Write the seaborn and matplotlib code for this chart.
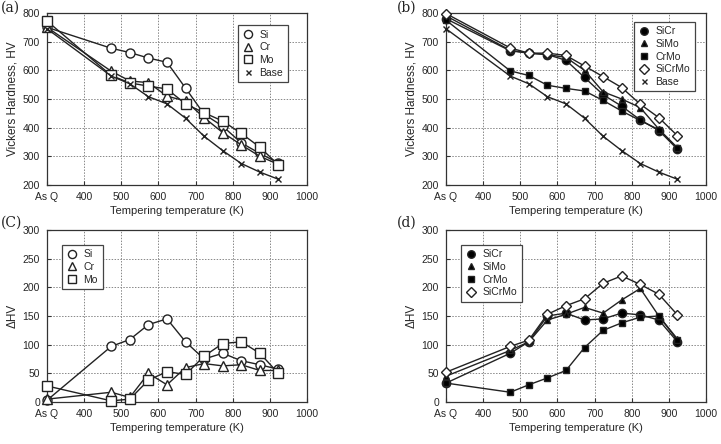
import matplotlib
matplotlib.use("Agg")
import matplotlib.pyplot as plt
import seaborn as sns
import pandas as pd

sns.set_theme(style="white")
plt.rcParams['font.family'] = ['Liberation Sans', 'DejaVu Sans']

temps = [300, 473, 523, 573, 623, 673, 723, 773, 823, 873, 923]
xticks = [300, 400, 500, 600, 700, 800, 900, 1000]
xticklabels = ["As Q", "400", "500", "600", "700", "800", "900", "1000"]

# Panel (a): hardness, single additions
hv_si = [750, 677, 662, 643, 628, 538, 447, 405, 347, 310, 277]
hv_cr = [750, 597, 563, 557, 510, 493, 435, 383, 340, 300, 272]
hv_mo = [772, 582, 556, 545, 535, 483, 452, 423, 380, 332, 270]
hv_base = [745, 580, 553, 508, 483, 433, 370, 320, 275, 245, 220]

# Panel (b): hardness, combined additions
hv_sicr = [780, 668, 660, 655, 635, 575, 515, 475, 427, 390, 325]
hv_simo = [790, 670, 660, 655, 645, 600, 525, 500, 470, 395, 330]
hv_crmo = [775, 598, 582, 548, 537, 528, 495, 458, 425, 393, 328]
hv_sicrmo = [798, 678, 660, 660, 652, 615, 578, 540, 482, 435, 372]

# Panel (c): delta HV, single additions
d_si = [3, 97, 109, 135, 145, 105, 75, 85, 72, 65, 57]
d_cr = [5, 17, 8, 50, 30, 60, 67, 63, 65, 55, 55]
d_mo = [28, 2, 5, 38, 53, 48, 80, 102, 105, 85, 50]

# Panel (d): delta HV, combined additions
d_sicr = [33, 85, 105, 150, 155, 143, 145, 155, 152, 143, 105]
d_simo = [45, 90, 105, 143, 153, 165, 155, 178, 198, 150, 110]
d_crmo = [33, 17, 30, 42, 55, 95, 125, 138, 148, 150, 108]
d_sicrmo = [52, 97, 108, 153, 168, 180, 207, 220, 205, 188, 152]

styles = {
    "Si": dict(marker="o", mfc="white", ms=6.5),
    "Cr": dict(marker="^", mfc="white", ms=6.5),
    "Mo": dict(marker="s", mfc="white", ms=6.5),
    "Base": dict(marker="x", mfc="black", ms=4),
    "SiCr": dict(marker="o", mfc="black", ms=6),
    "SiMo": dict(marker="^", mfc="black", ms=5),
    "CrMo": dict(marker="s", mfc="black", ms=5),
    "SiCrMo": dict(marker="D", mfc="white", ms=5.5),
}

fig = plt.figure(figsize=(7.21, 4.44), dpi=100)
W = 260 / 721
H = 172 / 444
axes = {
    "a": fig.add_axes([47 / 721, 1 - 185 / 444, W, H]),
    "b": fig.add_axes([446 / 721, 1 - 185 / 444, W, H]),
    "c": fig.add_axes([47 / 721, 1 - 402 / 444, W, H]),
    "d": fig.add_axes([446 / 721, 1 - 402 / 444, W, H]),
}

panels = {
    "a": [("Si", hv_si), ("Cr", hv_cr), ("Mo", hv_mo), ("Base", hv_base)],
    "b": [("SiCr", hv_sicr), ("SiMo", hv_simo), ("CrMo", hv_crmo),
          ("SiCrMo", hv_sicrmo), ("Base", hv_base)],
    "c": [("Si", d_si), ("Cr", d_cr), ("Mo", d_mo)],
    "d": [("SiCr", d_sicr), ("SiMo", d_simo), ("CrMo", d_crmo), ("SiCrMo", d_sicrmo)],
}

for key, series in panels.items():
    ax = axes[key]
    for name, vals in series:
        st = styles[name]
        df = pd.DataFrame({"T": temps, "v": vals})
        sns.lineplot(data=df, x="T", y="v", ax=ax, color="#222222", lw=1.0,
                     marker=st["marker"], markersize=st["ms"],
                     markerfacecolor=st["mfc"], markeredgecolor="#222222",
                     markeredgewidth=1.0, label=name, zorder=3, clip_on=False)
    ax.set_xlim(300, 1000)
    ax.set_xticks(xticks)
    ax.set_xticklabels(xticklabels)
    if key in ("a", "b"):
        ax.set_ylim(200, 800)
        ax.set_yticks(range(200, 801, 100))
        ax.set_ylabel("Vickers Hardness, HV", fontsize=8.5, labelpad=3)
    else:
        ax.set_ylim(0, 300)
        ax.set_yticks(range(0, 301, 50))
        ax.set_ylabel("ΔHV", fontsize=8.5, labelpad=3)
    ax.set_xlabel("Tempering temperature (K)", fontsize=8, labelpad=3)
    ax.tick_params(axis="x", labelsize=7.5, direction="in", length=3,
                   width=0.8, pad=5, bottom=True, color="#333333")
    ax.tick_params(axis="y", labelsize=7.5, direction="in", length=3,
                   width=0.8, pad=5, left=True, color="#333333")
    ax.grid(True, linestyle=(0, (1.5, 1.5)), color="#888888", lw=0.7)
    for s in ax.spines.values():
        s.set_color("#333333")
        s.set_linewidth(0.9)
    if key == "a":
        loc, anchor = "upper right", (0.946, 0.96)
    elif key == "b":
        loc, anchor = "upper right", (0.977, 0.98)
    else:
        loc, anchor = "upper left", (0.038, 0.945)
    leg = ax.legend(loc=loc, bbox_to_anchor=anchor, fontsize=7.5, frameon=True,
                    fancybox=False, edgecolor="#444444", framealpha=1,
                    handlelength=1.0, handletextpad=0.6, labelspacing=0.25,
                    borderpad=0.45, markerscale=0.9)
    for line in leg.get_lines():
        line.set_linestyle("none")
    leg.get_frame().set_linewidth(0.9)

labels = {"a": "(a)", "b": "(b)", "c": "(C)", "d": "(d)"}
pos = {"a": (1, 436), "b": (397, 436), "c": (1, 221), "d": (397, 221)}
for k, t in labels.items():
    x, y = pos[k]
    fig.text(x / 721, y / 444, t, fontsize=10, family="DejaVu Serif",
             ha="left", va="center", color="#222222")

fig.savefig("out.png", dpi=100)
